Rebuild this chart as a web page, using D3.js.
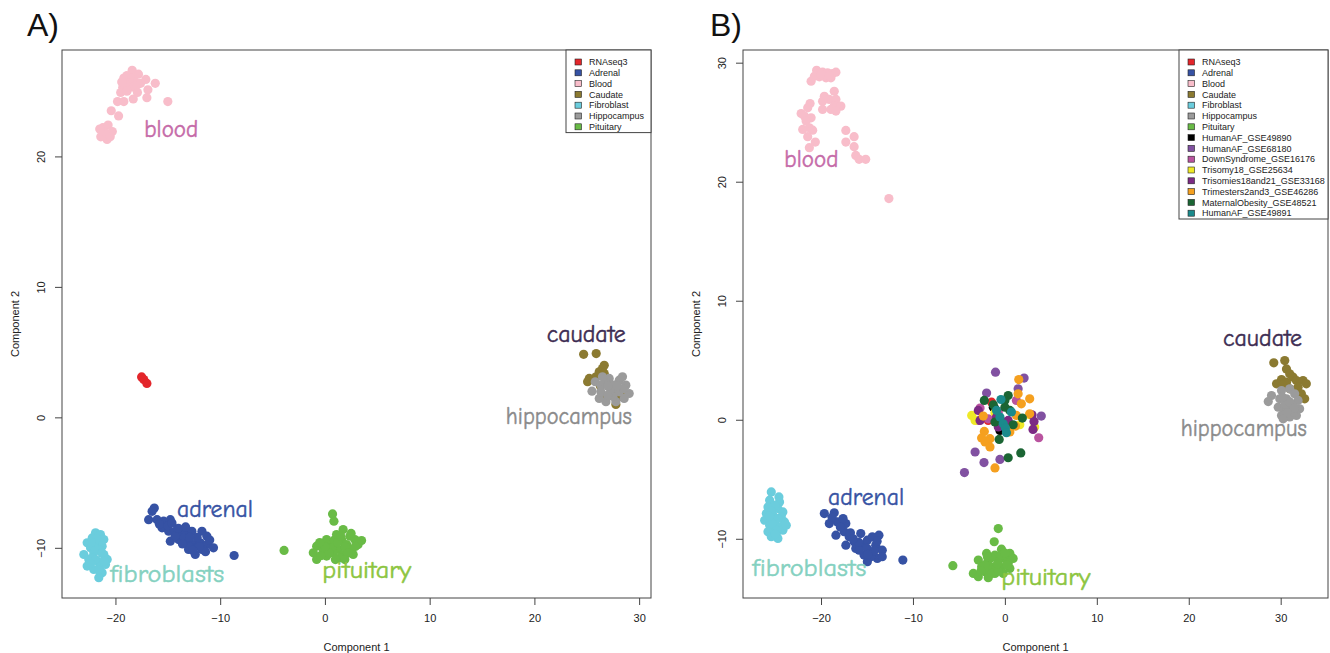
<!DOCTYPE html>
<html>
<head>
<meta charset="utf-8">
<script src="https://cdn.jsdelivr.net/npm/d3@7"></script>
<style>
  body { margin: 0; background: #fff; }
  svg text { font-family: "Liberation Sans", Arial, Helvetica, sans-serif; }
  .tissue { font-family: "Comic Sans MS", "Comic Neue", Lato, sans-serif; }
</style>
</head>
<body>
<svg id="chart" width="1330" height="653"></svg>
<script>
// groups, in plotting / legend order
const groups = ["RNAseq3", "Adrenal", "Blood", "Caudate", "Fibroblast", "Hippocampus", "Pituitary",
  "HumanAF_GSE49890", "HumanAF_GSE68180", "DownSyndrome_GSE16176", "Trisomy18_GSE25634",
  "Trisomies18and21_GSE33168", "Trimesters2and3_GSE46286", "MaternalObesity_GSE48521", "HumanAF_GSE49891"];
const groupColors = ["#e3262b", "#3652a4", "#f8bdca", "#8b7a31", "#6bcddd", "#9b9b9b", "#69bb46",
  "#000000", "#8151a1", "#b9539f", "#efe927", "#7c2a84", "#f5a01f", "#1b6534", "#1a8a8c"];

const xTicks = [-20, -10, 0, 10, 20, 30];
const yTicksA = [-10, 0, 10, 20];
const yTicksB = [-10, 0, 10, 20, 30];

// ---- panel A: [component1, component2]
const rnaseq3A = [[-17.5, 3.1], [-17.3, 2.9], [-17.0, 2.6]];
const adrenalA = [[-16.29, -6.95], [-16.5, -7.2], [-16.83, -7.84], [-16.03, -7.84], [-15.4, -7.96], [-14.76, -7.84],
  [-15.55, -8.47], [-14.92, -8.73], [-14.29, -8.73], [-13.81, -8.98], [-13.33, -8.85], [-12.7, -8.73], [-11.74, -8.73],
  [-11.27, -9.11], [-14.76, -9.49], [-13.97, -9.37], [-13.17, -9.49], [-12.54, -9.75], [-11.9, -9.62], [-11.27, -9.75],
  [-10.64, -10.0], [-12.38, -10.51], [-13.02, -10.13], [-11.74, -10.13], [-13.5, -9.24], [-8.67, -10.59],
  [-12.2, -9.2], [-13.0, -9.9], [-14.3, -9.1], [-11.4, -10.3], [-15.8, -8.2], [-15.0, -8.3], [-14.0, -8.5],
  [-12.9, -9.2], [-12.0, -9.9], [-13.6, -9.7], [-11.0, -9.4], [-12.6, -10.2], [-14.6, -8.1], [-13.3, -8.4]];
const bloodA = [[-18.4, 26.6], [-19.2, 26.0], [-18.9, 26.2], [-18.4, 26.0], [-18.1, 25.7], [-18.6, 25.6], [-19.0, 25.5],
  [-19.3, 25.3], [-18.8, 25.3], [-18.3, 25.3], [-17.9, 25.5], [-17.6, 25.6], [-17.1, 25.9], [-16.2, 25.6], [-16.9, 25.1],
  [-17.0, 24.5], [-15.0, 24.2], [-19.8, 24.2], [-19.2, 24.2], [-18.3, 24.4], [-17.9, 24.9], [-19.5, 24.9], [-18.9, 25.0],
  [-19.4, 25.7], [-17.8, 26.3], [-20.4, 23.5], [-19.7, 23.1], [-21.2, 22.2], [-20.7, 22.4], [-20.3, 21.9], [-21.0, 21.7],
  [-21.4, 21.5], [-20.8, 21.3], [-20.5, 21.5], [-21.1, 21.9], [-21.5, 22.1]];
const caudateA = [[24.7, 4.83], [25.9, 4.89], [26.67, 3.99], [26.5, 3.74], [26.19, 3.49], [25.88, 3.11], [25.24, 2.98],
  [25.08, 2.73], [25.71, 2.85], [26.35, 3.23], [26.67, 3.36], [27.78, 0.99], [26.83, 1.58], [27.2, 2.5], [27.8, 2.2],
  [26.3, 2.4], [28.3, 1.6]];
const fibroblastA = [[-21.9, -8.85], [-21.43, -8.98], [-22.22, -9.24], [-21.11, -9.37], [-22.7, -9.62], [-21.74, -9.62],
  [-21.27, -9.87], [-22.38, -10.0], [-23.02, -10.51], [-22.07, -10.38], [-21.11, -10.51], [-20.79, -10.89], [-22.54, -10.89],
  [-21.74, -11.02], [-22.7, -11.4], [-21.43, -11.4], [-22.07, -11.66], [-21.27, -11.91], [-21.59, -12.29], [-20.95, -11.27],
  [-22.22, -10.76], [-21.59, -10.13], [-21.8, -9.3], [-22.0, -10.0], [-21.3, -10.4], [-21.9, -10.9], [-22.4, -11.2],
  [-21.1, -11.0], [-21.6, -11.7], [-22.3, -9.6]];
const hippocampusA = [[25.81, 2.73], [25.5, 2.01], [26.35, 2.47], [27.14, 2.98], [28.1, 2.85], [28.73, 2.47], [29.05, 1.83],
  [28.57, 1.45], [27.78, 1.2], [26.83, 1.2], [26.19, 1.45], [26.35, 1.96], [27.3, 2.08], [28.1, 1.96], [27.62, 2.47],
  [26.83, 2.6], [28.41, 3.11], [26.5, 3.11], [27.5, 1.6], [28.5, 2.2], [27.0, 2.4], [27.0, 1.7], [27.9, 2.4]];
const pituitaryA = [[-3.9, -10.2], [0.73, -7.4], [0.86, -7.96], [1.74, -8.6], [1.11, -8.98], [2.38, -9.11], [0.16, -9.37],
  [1.59, -9.37], [2.86, -9.37], [-0.79, -9.87], [0.48, -9.75], [2.07, -9.75], [3.17, -9.75], [-0.16, -10.13], [1.27, -10.13],
  [2.54, -10.13], [-1.11, -10.38], [0.79, -10.38], [1.74, -10.51], [0.16, -10.63], [-0.79, -10.89], [2.7, -10.51],
  [1.43, -10.76], [0.64, -10.0], [3.5, -9.44], [0.9, -9.4], [1.9, -9.9], [0.4, -10.4], [1.2, -9.6], [2.2, -10.4],
  [-0.4, -10.6], [1.0, -10.9], [2.9, -9.9], [0.0, -9.9], [1.5, -9.1], [-0.5, -9.6], [2.5, -8.9], [1.9, -10.9]];

// ---- panel B
const rnaseq3B = [[-1.45, 1.48], [-1.81, -0.06]];
const adrenalB = [[-19.64, -7.88], [-18.56, -7.82], [-19.1, -8.72], [-18.21, -8.58], [-17.3, -8.72], [-18.38, -9.7],
  [-17.48, -9.41], [-16.94, -9.83], [-17.3, -10.54], [-16.4, -10.25], [-15.68, -9.56], [-16.22, -10.81], [-15.5, -10.54],
  [-14.96, -10.12], [-14.42, -9.83], [-13.7, -9.7], [-14.05, -10.54], [-13.34, -10.96], [-14.59, -11.09], [-15.32, -11.37],
  [-15.86, -10.96], [-14.96, -11.93], [-13.88, -11.65], [-13.34, -11.51], [-14.59, -11.51], [-11.1, -11.79],
  [-18.8, -8.2], [-17.9, -9.0], [-16.8, -9.5], [-15.9, -10.3], [-15.0, -10.8], [-14.2, -11.0], [-14.9, -11.3],
  [-13.9, -10.2], [-16.5, -10.0], [-17.6, -8.3]];
const bloodB = [[-20.48, 29.36], [-19.83, 29.2], [-19.29, 29.15], [-18.75, 29.09], [-18.38, 29.2], [-20.72, 28.86],
  [-20.18, 28.81], [-19.46, 28.73], [-18.92, 28.73], [-21.08, 28.44], [-20.0, 29.0], [-19.1, 28.92], [-18.56, 27.6],
  [-19.64, 27.18], [-19.1, 26.91], [-19.83, 26.76], [-18.38, 26.91], [-18.56, 26.35], [-17.84, 26.35], [-18.92, 26.07],
  [-19.83, 26.07], [-18.38, 25.93], [-21.19, 26.57], [-21.45, 26.21], [-22.16, 25.73], [-21.81, 25.51], [-21.08, 25.37],
  [-21.62, 25.09], [-21.99, 24.39], [-21.27, 24.53], [-20.91, 24.33], [-21.45, 23.78], [-20.62, 23.33], [-21.27, 22.86],
  [-17.3, 24.31], [-16.4, 23.78], [-17.3, 23.33], [-16.4, 22.94], [-16.22, 22.21], [-15.86, 21.88], [-15.14, 21.88],
  [-12.62, 18.58]];
const caudateB = [[29.25, 4.78], [30.44, 4.97], [30.63, 4.27], [30.98, 3.86], [31.35, 3.58], [30.09, 3.38], [29.55, 3.02],
  [30.63, 3.16], [31.71, 3.29], [32.43, 3.29], [32.79, 3.02], [31.89, 2.74], [32.25, 2.18], [32.61, 1.76], [31.0, 2.6],
  [30.2, 2.9]];
const fibroblastB = [[-25.41, -6.06], [-24.58, -6.48], [-25.59, -6.76], [-24.51, -6.9], [-25.77, -7.32], [-24.69, -7.46],
  [-24.15, -7.74], [-25.95, -7.88], [-25.23, -8.02], [-24.32, -8.16], [-26.13, -8.44], [-25.05, -8.58], [-23.97, -8.58],
  [-25.59, -8.86], [-24.51, -8.99], [-25.23, -9.28], [-24.15, -9.28], [-25.77, -9.41], [-24.86, -9.7], [-24.69, -9.97],
  [-25.41, -9.83], [-23.78, -8.86], [-25.0, -7.2], [-25.4, -7.7], [-24.7, -8.3], [-25.3, -8.7], [-24.8, -9.3],
  [-25.0, -9.6], [-25.6, -8.1]];
const hippocampusB = [[29.0, 2.04], [28.65, 1.53], [30.09, 2.46], [30.98, 2.6], [31.52, 2.18], [31.89, 1.62], [32.06, 0.92],
  [31.71, 0.36], [30.98, 0.23], [30.09, 0.36], [29.73, 1.06], [29.9, 1.76], [30.63, 1.76], [31.17, 1.2], [30.45, 0.92],
  [31.35, 0.65], [30.27, 0.08], [30.5, 1.3], [31.0, 1.5], [30.2, 1.9], [31.5, 1.0], [30.7, 0.6]];
const pituitaryB = [[-0.72, -9.14], [-1.16, -10.25], [-5.66, -12.26], [-0.37, -10.87], [0.54, -11.23], [-1.99, -11.23],
  [-1.08, -11.37], [0.0, -11.65], [0.9, -11.65], [-2.89, -11.79], [-1.81, -11.79], [-0.72, -11.93], [0.36, -12.07],
  [-2.53, -12.35], [-1.45, -12.35], [-0.37, -12.43], [-3.43, -12.91], [-2.16, -12.77], [-1.08, -12.91], [-2.89, -13.19],
  [-1.81, -13.27], [-0.18, -12.91], [0.54, -12.49], [-1.5, -11.6], [-0.4, -11.4], [-2.2, -12.2], [-1.0, -12.5],
  [0.2, -12.2], [-2.6, -12.7], [-1.4, -12.9], [-0.7, -12.7], [-1.9, -11.5], [0.0, -11.2], [-0.8, -12.1]];
const humanAF49890B = [[-1.08, 0.92], [-0.54, -0.9], [-0.18, -0.61], [-1.26, 1.06]];
const humanAF68180B = [[-1.02, 4.0], [2.09, 3.5], [-1.99, 2.24], [1.44, 2.6], [-3.24, -2.71], [-2.27, -3.6], [-4.4, -4.44],
  [-0.54, -3.33], [3.96, 0.31]];
const downSyndromeB = [[-2.7, 0.98], [-1.81, 0.08], [1.25, 1.62], [3.68, -1.51], [-0.72, 0.65], [-2.89, -0.06]];
const trisomy18B = [[-3.61, 0.36], [-1.08, 0.59], [1.62, -0.42], [3.24, -0.61], [2.7, 0.42], [-3.24, -0.06]];
const trisomies1821B = [[-2.89, 0.78], [-2.7, -0.06], [-0.91, 0.23], [-0.18, -0.19], [2.95, 0.42], [3.17, -0.14],
  [3.06, -0.81], [0.36, -0.06], [-0.72, -0.61]];
const trimestersB = [[1.51, 3.38], [2.7, 1.76], [1.44, 2.18], [1.79, 1.34], [1.25, 0.36], [-2.35, 0.31], [-2.24, -0.98],
  [-2.53, -1.53], [-1.62, -1.59], [-2.16, -1.87], [-1.62, -2.29], [-1.08, -4.05], [0.54, -1.03], [2.7, 0.5], [1.15, -0.53]];
const maternalObesityB = [[-2.24, 1.62], [0.36, 2.04], [-1.26, 1.26], [0.0, 1.06], [0.54, 0.78], [1.9, 0.14], [-1.08, -0.19],
  [0.9, -0.42], [-0.62, -1.65], [0.36, -3.19], [1.73, -2.79], [0.0, 1.62]];
const humanAF49891B = [[-0.43, 1.7], [-0.54, 0.23], [-0.18, -0.34], [0.06, -0.7], [0.17, -1.09], [-0.91, 0.78], [0.71, 0.65]];

const seriesA = [rnaseq3A, adrenalA, bloodA, caudateA, fibroblastA, hippocampusA, pituitaryA];
const seriesB = [rnaseq3B, adrenalB, bloodB, caudateB, fibroblastB, hippocampusB, pituitaryB, humanAF49890B, humanAF68180B,
  downSyndromeB, trisomy18B, trisomies1821B, trimestersB, maternalObesityB, humanAF49891B];

// tissue annotations, anchored in data units
const tissueNames = ["blood", "caudate", "hippocampus", "adrenal", "fibroblasts", "pituitary"];
const tissueColors = ["#c56aa8", "#3d2c52", "#8a8a8a", "#3652a3", "#84d1c0", "#8cc540"];
const tissueAtA = [[-14.67, 21.45], [24.95, 5.8], [23.29, -0.53], [-10.5, -7.63], [-15.05, -12.6], [4.0, -12.29]];
const tissueAtB = [[-21.05, 21.21], [28.03, 6.2], [25.98, -1.34], [-15.1, -7.12], [-21.27, -13.16], [4.46, -13.91]];

const svg = d3.select("#chart");
const tissueWidth = [54, 79, 126, 76, 114, 89];

function drawPanel(p) {
    // R style: data range stretched 4%
    const all = p.series.flat();
    const xe = d3.extent(all, d => d[0]);
    const ye = d3.extent(all, d => d[1]);
    const px = (xe[1] - xe[0]) * 0.04, py = (ye[1] - ye[0]) * 0.04;
    const x = d3.scaleLinear().domain([xe[0] - px, xe[1] + px]).range([p.left, p.right]);
    const y = d3.scaleLinear().domain([ye[0] - py, ye[1] + py]).range([p.bottom, p.top]);

    const g = svg.append("g");

    p.series.forEach((pts, i) => {
        g.append("g").selectAll("circle").data(pts).enter()
            .append("circle")
            .attr("cx", d => x(d[0]))
            .attr("cy", d => y(d[1]))
            .attr("r", 4.6)
            .attr("fill", groupColors[i]);
    });

    //tissue names
    tissueNames.forEach((t, i) => {
        g.append("text")
            .attr("class", "tissue")
            .attr("x", x(p.labels[i][0]))
            .attr("y", y(p.labels[i][1]))
            .attr("text-anchor", "middle")
            .attr("font-size", 25)
            .attr("textLength", tissueWidth[i])
            .attr("lengthAdjust", "spacingAndGlyphs")
            .attr("fill", tissueColors[i])
            .attr("stroke", tissueColors[i])
            .attr("stroke-width", 0.5)
            .text(t);
    });

    // frame
    g.append("rect")
        .attr("x", p.left).attr("y", p.top)
        .attr("width", p.right - p.left).attr("height", p.bottom - p.top)
        .attr("fill", "none").attr("stroke", "#444").attr("stroke-width", 1);

    //axes
    const xAxis = g.append("g")
        .attr("transform", `translate(0, ${p.bottom})`)
        .call(d3.axisBottom(x).tickValues(xTicks).tickSize(7).tickPadding(9));
    const yAxis = g.append("g")
        .attr("transform", `translate(${p.left}, 0)`)
        .call(d3.axisLeft(y).tickValues(p.yTicks).tickSize(7));
    [xAxis, yAxis].forEach(a => {
        a.select(".domain").remove();
        a.selectAll("line").attr("stroke", "#444");
        a.selectAll("text").attr("fill", "#222").style("font-size", "11px")
            .style("font-family", '"Liberation Sans", Arial, sans-serif');
    });
    yAxis.selectAll("text")
        .attr("x", null).attr("dy", null)
        .attr("text-anchor", "middle")
        .attr("transform", "translate(-17, 0) rotate(-90)");

    g.append("text")
        .attr("x", (p.left + p.right) / 2).attr("y", 651)
        .attr("text-anchor", "middle").attr("font-size", 11).attr("fill", "#222")
        .text("Component 1");
    g.append("text")
        .attr("transform", `translate(${p.left - 43}, ${(p.top + p.bottom) / 2}) rotate(-90)`)
        .attr("text-anchor", "middle").attr("font-size", 11).attr("fill", "#222")
        .text("Component 2");

    // panel tag
    g.append("text")
        .attr("x", p.tagX).attr("y", 36)
        .attr("font-size", 32).attr("fill", "#111")
        .text(p.tag);

    // legend, top right
    const n = p.series.length;
    const rowH = 10.8;
    const lx = p.right - p.legendW;
    g.append("rect")
        .attr("x", lx).attr("y", p.top)
        .attr("width", p.legendW).attr("height", n * rowH + 7)
        .attr("fill", "#fff").attr("stroke", "#444");
    const rows = g.append("g").selectAll("g").data(groups.slice(0, n)).enter()
        .append("g")
        .attr("transform", (d, i) => `translate(${lx}, ${p.top + 12 + i * rowH})`);
    rows.append("rect")
        .attr("x", 9).attr("y", -3).attr("width", 6.5).attr("height", 6)
        .attr("fill", (d, i) => groupColors[i])
        .attr("stroke", "#222").attr("stroke-width", 0.6);
    rows.append("text")
        .attr("x", 23).attr("dy", "0.35em")
        .attr("font-size", 9).attr("fill", "#222")
        .text(d => d);
}

drawPanel({ tag: "A)", tagX: 27, left: 62, right: 651, top: 50, bottom: 598, series: seriesA,
    labels: tissueAtA, yTicks: yTicksA, legendW: 85 });
drawPanel({ tag: "B)", tagX: 710, left: 743, right: 1328, top: 50, bottom: 598, series: seriesB,
    labels: tissueAtB, yTicks: yTicksB, legendW: 149 });
</script>
</body>
</html>
